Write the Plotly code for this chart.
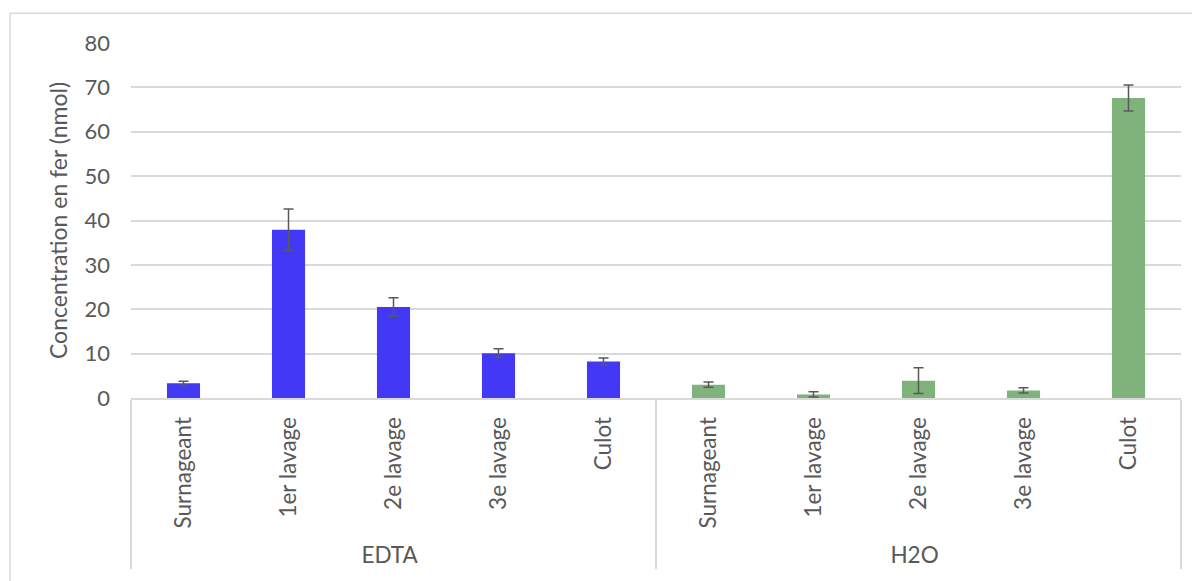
import plotly.graph_objects as go

groups = ["EDTA"] * 5 + ["H2O"] * 5
steps = ["Surnageant", "1er lavage", "2e lavage", "3e lavage", "Culot"] * 2
values = [3.3, 37.9, 20.5, 10.1, 8.2, 3.0, 0.8, 3.9, 1.7, 67.6]
errors = [0.5, 4.7, 2.1, 1.0, 0.8, 0.6, 0.6, 2.9, 0.6, 2.95]
colors = ["#4338F6"] * 5 + ["#80B27C"] * 5
y_ticks = [0, 10, 20, 30, 40, 50, 60, 70, 80]

FONT = "Lato"
TXT = "#595959"

# page body has an 8px margin; compensate so the chart lands where intended
OFF = 8
W, H = 1200 - OFF, 581 - OFF
L, R, T, B = 131 - OFF, W - (1181 - OFF), 42.7 - OFF, H - (398.3 - OFF)
PW, PH = W - L - R, H - T - B

fig = go.Figure(go.Bar(
    x=[groups, steps],
    y=values,
    marker=dict(color=colors, line=dict(width=0)),
    width=0.315,
    error_y=dict(type="data", array=errors, visible=True, color="#595959",
                 thickness=1.5, width=5),
))

fig.update_layout(
    width=W, height=H, autosize=False,
    margin=dict(l=L, r=R, t=T, b=B, pad=0),
    paper_bgcolor="white", plot_bgcolor="white",
    font=dict(family=FONT, size=22, color=TXT),
    showlegend=False,
    xaxis=dict(
        type="multicategory",
        showline=True, linecolor="#D9D9D9", linewidth=2,
        showdividers=True, dividercolor="#D9D9D9", dividerwidth=2,
        tickangle=-90,
        ticks="",
        ticklabelstandoff=8,
        tickfont=dict(family=FONT, size=22.5, color=TXT),
        showgrid=False,
        fixedrange=True,
    ),
    yaxis=dict(
        range=[0, 80],
        tickvals=y_ticks,
        showgrid=True, gridcolor="#D9D9D9", gridwidth=1.5,
        zeroline=False,
        showline=False,
        ticks="",
        ticklabelstandoff=20,
        tickfont=dict(family=FONT, size=22, color=TXT),
        title=dict(text="Concentration en fer (nmol)", standoff=10,
                   font=dict(family=FONT, size=23, color=TXT)),
    ),
    shapes=[dict(type="rect", xref="paper", yref="paper",
                 x0=(10 - 131) / PW, x1=(1220 - 131) / PW,
                 y0=(398.3 - 600) / PH, y1=(398.3 - 13) / PH,
                 line=dict(color="#D9D9D9", width=1.5), layer="below")],
)

fig.write_html("out.html")
